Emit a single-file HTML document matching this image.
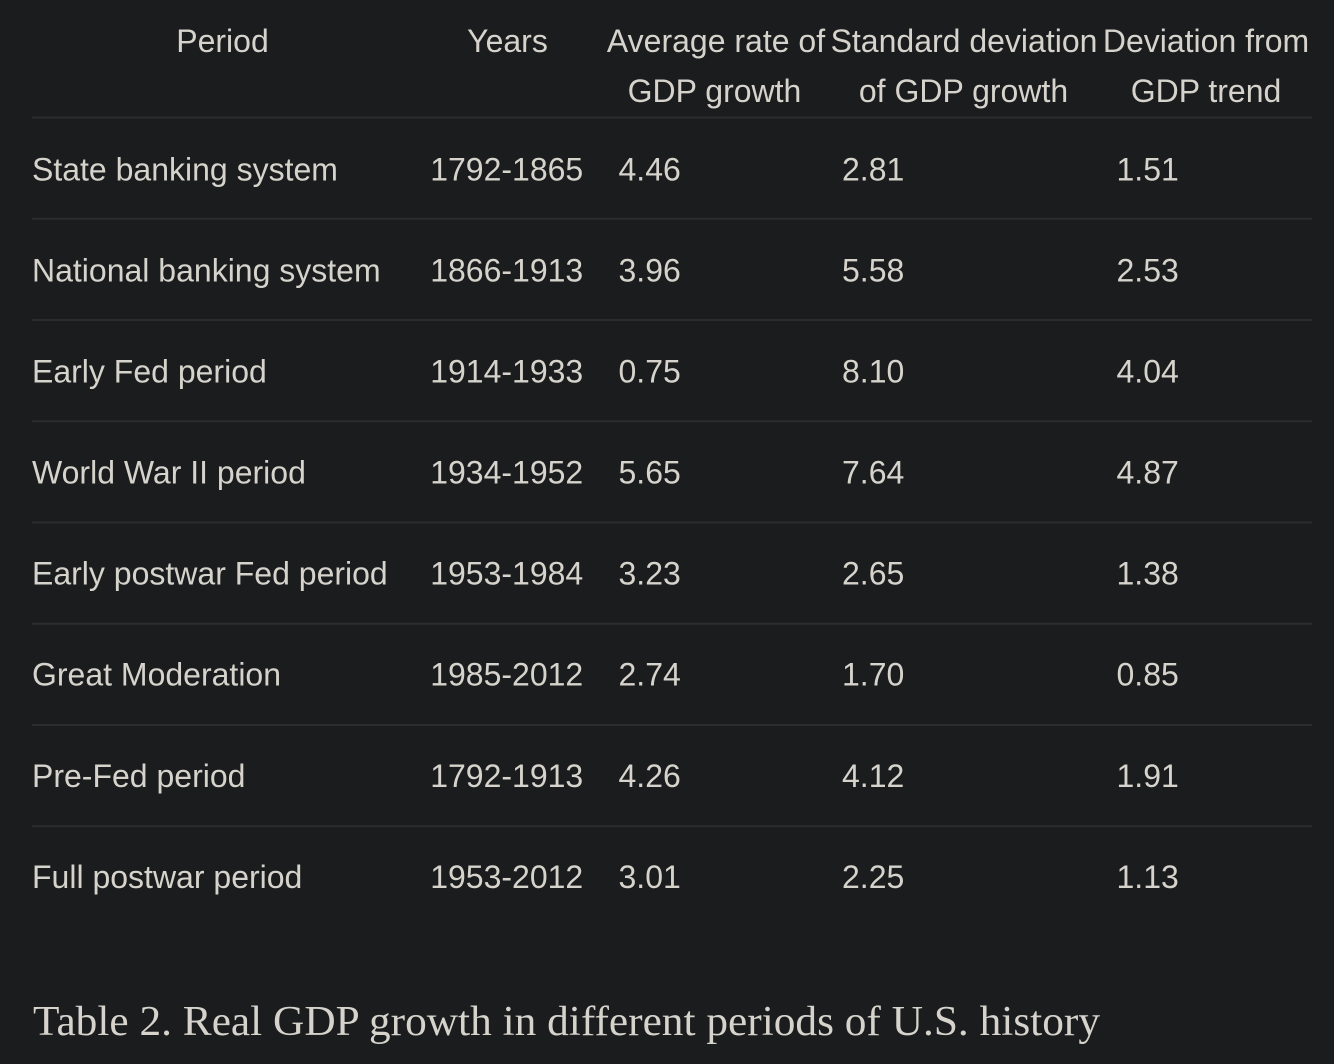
<!DOCTYPE html>
<html>
<head>
<meta charset="utf-8">
<style>
  html, body { margin:0; padding:0; background:#1b1c1e; }
  body { width:1334px; height:1064px; overflow:hidden; }
  svg { display:block; }
  .t { font-family:"Liberation Sans", Arial, sans-serif; font-size:32px; fill:#d6d3cc; }
  .c { font-family:"Liberation Serif", "Times New Roman", serif; font-size:42px; fill:#d6d3cc; }
</style>
</head>
<body>
<svg width="1334" height="1064" viewBox="0 0 1334 1064" xmlns="http://www.w3.org/2000/svg">
  <rect x="0" y="0" width="1334" height="1064" fill="#1b1c1e"/>

  <!-- header -->
  <g class="t" text-anchor="middle">
    <text x="222.5" y="52">Period</text>
    <text x="507.5" y="52">Years</text>
    <text x="716" y="52">Average rate of</text>
    <text x="714.5" y="102">GDP growth</text>
    <text x="964" y="52">Standard deviation</text>
    <text x="963.5" y="102">of GDP growth</text>
    <text x="1206" y="52">Deviation from</text>
    <text x="1206" y="102">GDP trend</text>
  </g>

  <!-- separators -->
  <g fill="#2b2c2e">
    <rect x="32" y="116.5" width="1280" height="2"/>
    <rect x="32" y="217.75" width="1280" height="2"/>
    <rect x="32" y="319" width="1280" height="2"/>
    <rect x="32" y="420.25" width="1280" height="2"/>
    <rect x="32" y="521.5" width="1280" height="2"/>
    <rect x="32" y="622.75" width="1280" height="2"/>
    <rect x="32" y="724" width="1280" height="2"/>
    <rect x="32" y="825.25" width="1280" height="2"/>
  </g>

  <!-- rows -->
  <g class="t">
    <text x="32" y="180.5">State banking system</text>
    <text x="430.2" y="180.5">1792-1865</text>
    <text x="618.5" y="180.5">4.46</text>
    <text x="842" y="180.5">2.81</text>
    <text x="1116.5" y="180.5">1.51</text>

    <text x="32" y="281.5">National banking system</text>
    <text x="430.2" y="281.5">1866-1913</text>
    <text x="618.5" y="281.5">3.96</text>
    <text x="842" y="281.5">5.58</text>
    <text x="1116.5" y="281.5">2.53</text>

    <text x="32" y="382.5">Early Fed period</text>
    <text x="430.2" y="382.5">1914-1933</text>
    <text x="618.5" y="382.5">0.75</text>
    <text x="842" y="382.5">8.10</text>
    <text x="1116.5" y="382.5">4.04</text>

    <text x="32" y="483.5">World War II period</text>
    <text x="430.2" y="483.5">1934-1952</text>
    <text x="618.5" y="483.5">5.65</text>
    <text x="842" y="483.5">7.64</text>
    <text x="1116.5" y="483.5">4.87</text>

    <text x="32" y="584.5">Early postwar Fed period</text>
    <text x="430.2" y="584.5">1953-1984</text>
    <text x="618.5" y="584.5">3.23</text>
    <text x="842" y="584.5">2.65</text>
    <text x="1116.5" y="584.5">1.38</text>

    <text x="32" y="685.5">Great Moderation</text>
    <text x="430.2" y="685.5">1985-2012</text>
    <text x="618.5" y="685.5">2.74</text>
    <text x="842" y="685.5">1.70</text>
    <text x="1116.5" y="685.5">0.85</text>

    <text x="32" y="787">Pre-Fed period</text>
    <text x="430.2" y="787">1792-1913</text>
    <text x="618.5" y="787">4.26</text>
    <text x="842" y="787">4.12</text>
    <text x="1116.5" y="787">1.91</text>

    <text x="32" y="888">Full postwar period</text>
    <text x="430.2" y="888">1953-2012</text>
    <text x="618.5" y="888">3.01</text>
    <text x="842" y="888">2.25</text>
    <text x="1116.5" y="888">1.13</text>
  </g>

  <!-- caption -->
  <text class="c" x="33" y="1035" textLength="1067" lengthAdjust="spacingAndGlyphs">Table 2. Real GDP growth in different periods of U.S. history</text>
</svg>
</body>
</html>
